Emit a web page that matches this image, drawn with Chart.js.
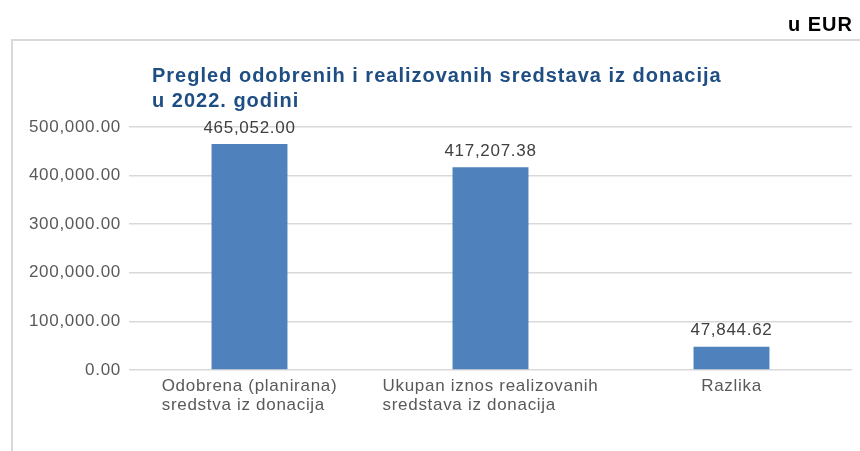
<!DOCTYPE html>
<html>
<head>
<meta charset="utf-8">
<script src="https://cdn.jsdelivr.net/npm/chart.js@4/dist/chart.umd.min.js"></script>
<style>
	html, body { margin: 0; padding: 0; background: #ffffff; }
	#wrap { position: relative; width: 860px; height: 451px; }
</style>
</head>
<body>
<div id="wrap"><canvas id="chart" width="860" height="451"></canvas></div>
<script>

// chart data
const categories = [
	['Odobrena (planirana)', 'sredstva iz donacija'],
	['Ukupan iznos realizovanih', 'sredstava iz donacija'],
	['Razlika']
];
const values = [465052.00, 417207.38, 47844.62];
const titleLines = ['Pregled odobrenih i realizovanih sredstava iz donacija', 'u 2022. godini'];
const unitLabel = 'u EUR';
const yTicks = [0, 100000, 200000, 300000, 400000, 500000];

const fontFamily = '"Liberation Sans", Arial, sans-serif';
const spacing = '0.7px';

function money(v) {
	return v.toLocaleString('en-US', {minimumFractionDigits: 2, maximumFractionDigits: 2});
}


// frame, unit, title, category and value labels
const decor = {
	id: 'decor',
	beforeLayout(chart) {
		chart.ctx.letterSpacing = spacing;
	},
	beforeDraw(chart) {
		const ctx = chart.ctx;
		ctx.letterSpacing = spacing;
		ctx.save();
		ctx.strokeStyle = '#d9d9d9';
		ctx.lineWidth = 2;
		ctx.beginPath();
		ctx.moveTo(12, 451);
		ctx.lineTo(12, 40);
		ctx.lineTo(860, 40);
		ctx.stroke();
		ctx.restore();
	},
	afterDraw(chart) {
		const ctx = chart.ctx;
		ctx.save();

		ctx.letterSpacing = '1px';
		ctx.fillStyle = '#000000';
		ctx.font = 'bold 20px ' + fontFamily;
		ctx.textAlign = 'right';
		ctx.textBaseline = 'middle';
		ctx.fillText(unitLabel, 853, 25);

		ctx.fillStyle = '#1f4e82';
		ctx.textAlign = 'left';
		titleLines.forEach(function(line, i) {
			ctx.fillText(line, 152, 76 + i * 25);
		});

		ctx.letterSpacing = spacing;
		ctx.font = '17px ' + fontFamily;

		// category labels: block centred under the bar, lines left aligned
		const xScale = chart.scales.x;
		ctx.fillStyle = '#595959';
		categories.forEach(function(lines, i) {
			const cx = xScale.getPixelForTick(i);
			const w = Math.max(...lines.map(l => ctx.measureText(l).width));
			ctx.textAlign = lines.length > 1 ? 'left' : 'center';
			lines.forEach(function(line, j) {
				ctx.fillText(line, lines.length > 1 ? cx - w / 2 : cx, 386 + j * 19);
			});
		});

		ctx.fillStyle = '#404040';
		ctx.textAlign = 'center';
		chart.getDatasetMeta(0).data.forEach(function(bar, i) {
			ctx.fillText(money(values[i]), bar.x, bar.y - 16);
		});

		ctx.restore();
	}
};


new Chart(document.getElementById('chart'), {
	type: 'bar',
	data: {
		labels: categories,
		datasets: [{
			data: values,
			backgroundColor: '#4f81bd',
			borderWidth: 0,
			categoryPercentage: 1,
			barPercentage: 0.315
		}]
	},
	options: {
		responsive: false,
		animation: false,
		layout: {
			padding: {top: 127, right: 8, bottom: 0, left: 0}
		},
		plugins: {
			legend: {display: false},
			title: {display: false},
			tooltip: {enabled: false}
		},
		scales: {
			x: {
				grid: {display: false, drawTicks: false},
				border: {display: false},
				ticks: {display: false},
				afterFit(scale) {
					scale.height = 81;
				}
			},
			y: {
				min: 0,
				max: 500000,
				afterBuildTicks(scale) {
					scale.ticks = yTicks.map(v => ({value: v}));
				},
				grid: {color: '#d9d9d9', lineWidth: 1.5, drawTicks: false},
				border: {display: false},
				ticks: {
					color: '#595959',
					font: {family: fontFamily, size: 17},
					padding: 8,
					callback: (v) => money(v)
				},
				afterFit(scale) {
					scale.width = 129;
				}
			}
		}
	},
	plugins: [decor]
});

</script>
</body>
</html>
